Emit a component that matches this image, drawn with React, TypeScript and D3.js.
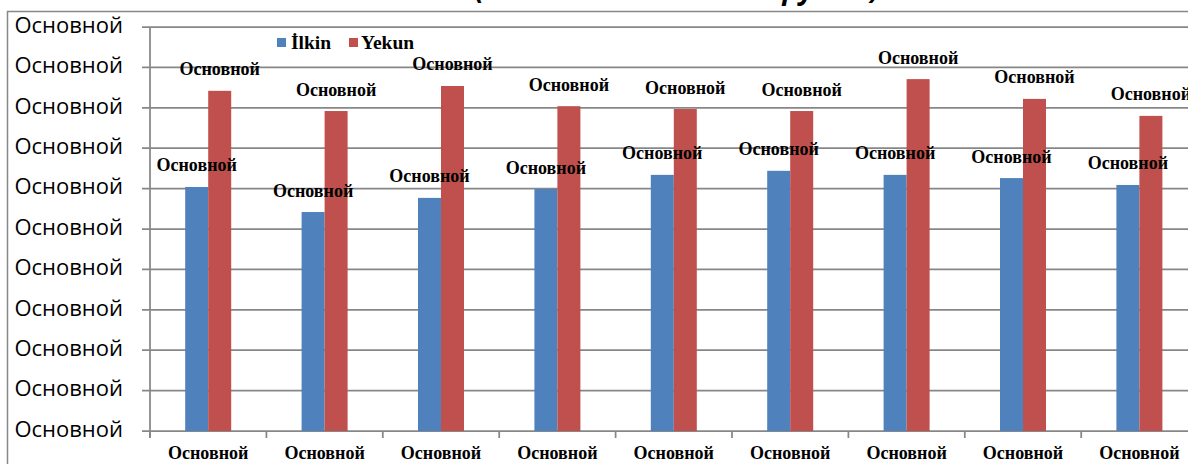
import React from 'react';
import * as d3 from 'd3';

// chart data
const categories = ['c1', 'c2', 'c3', 'c4', 'c5', 'c6', 'c7', 'c8', 'c9'];
const categoryLabels = ['Основной', 'Основной', 'Основной', 'Основной', 'Основной', 'Основной', 'Основной', 'Основной', 'Основной'];
const seriesNames = ['İlkin', 'Yekun'];
const ilkinValues = [6.04, 5.42, 5.77, 5.99, 6.34, 6.44, 6.34, 6.26, 6.09];
const yekunValues = [8.42, 7.92, 8.54, 8.04, 7.97, 7.92, 8.71, 8.22, 7.8];
const valueLabel = 'Основной';
const tickValues = [0, 1, 2, 3, 4, 5, 6, 7, 8, 9, 10];
const tickLabels = ['Основной', 'Основной', 'Основной', 'Основной', 'Основной', 'Основной', 'Основной', 'Основной', 'Основной', 'Основной', 'Основной'];
const titleText = '(Основной Основной группы)';

const colors = ['#4F81BD', '#C0504D'];

const W = 1188;
const H = 464;
const left = 150;
const top = 27;
const bottom = 431;
const step = 116.4;
const barW = 23;

const App: React.FC = () => {
  const y = d3.scaleLinear().domain([0, 10]).range([bottom, top]);
  const x0 = d3.scaleBand<string>()
    .domain(categories)
    .range([left, left + step * categories.length])
    .padding(0);
  const x1 = d3.scaleBand<string>()
    .domain(seriesNames)
    .range([(step - 2 * barW) / 2, (step + 2 * barW) / 2])
    .padding(0);

  const rows = categories.map((c, i) => ({ c, vals: [ilkinValues[i], yekunValues[i]] }));
  const gridColor = '#878787';
  const serif = '"Liberation Serif", "Times New Roman", serif';

  return (
    <svg width={W} height={H} style={{ position: 'absolute', left: 0, top: 0, background: '#fff' }}>
      {/* title, mostly cut off by the top edge */}
      <text x={475} y={-1.5} textLength={405} lengthAdjust="spacing"
        style={{ fontFamily: '"Open Sans", sans-serif', fontStyle: 'italic', fontWeight: 'bold', fontSize: 28 }}>{titleText}</text>

      {/* outer chart border */}
      <rect x={7.5} y={11.5} width={W + 20} height={H + 20} fill="none" stroke={gridColor} strokeWidth={1.5} />

      {/* gridlines + y ticks */}
      {tickValues.map((t, i) => (
        <g key={'g' + i}>
          <line x1={left - 8} x2={W + 10} y1={y(t)} y2={y(t)} stroke={gridColor} strokeWidth={1.75} />
          <text x={123} y={y(t)} dominantBaseline="middle" textAnchor="end"
            style={{ fontFamily: '"Open Sans", sans-serif', fontSize: 22 }}>{tickLabels[i]}</text>
        </g>
      ))}

      {/* y axis */}
      <line x1={left} x2={left} y1={top} y2={bottom + 7} stroke={gridColor} strokeWidth={1.75} />

      {/* x ticks */}
      {categories.map((c) => (
        <line key={'t' + c} x1={x0(c)!} x2={x0(c)!} y1={bottom} y2={bottom + 7} stroke={gridColor} strokeWidth={1.75} />
      ))}

      {/* bars */}
      {rows.map((r) => (
        <g key={r.c} transform={`translate(${x0(r.c)},0)`}>
          {r.vals.map((v, j) => (
            <rect key={j} x={x1(seriesNames[j])!} y={y(v)} width={x1.bandwidth()} height={bottom - y(v)} fill={colors[j]} />
          ))}
        </g>
      ))}

      {/* data labels */}
      {rows.map((r) => (
        <g key={'l' + r.c} transform={`translate(${x0(r.c)},0)`}>
          {r.vals.map((v, j) => (
            <text key={j} x={x1(seriesNames[j])! + x1.bandwidth() / 2} y={y(v) - 15.5} textAnchor="middle"
              style={{ fontFamily: serif, fontWeight: 'bold', fontSize: 18 }}>{valueLabel}</text>
          ))}
        </g>
      ))}

      {/* category labels */}
      {categories.map((c, i) => (
        <text key={'x' + c} x={x0(c)! + x0.bandwidth() / 2} y={459} textAnchor="middle"
          style={{ fontFamily: serif, fontWeight: 'bold', fontSize: 18 }}>{categoryLabels[i]}</text>
      ))}

      {/* legend */}
      <g style={{ fontFamily: serif, fontWeight: 'bold', fontSize: 19.5 }}>
        <rect x={277} y={38} width={9} height={9} fill={colors[0]} />
        <text x={291} y={49}>{seriesNames[0]}</text>
        <rect x={349} y={38} width={9} height={9} fill={colors[1]} />
        <text x={361} y={49}>{seriesNames[1]}</text>
      </g>
    </svg>
  );
};

export default App;
